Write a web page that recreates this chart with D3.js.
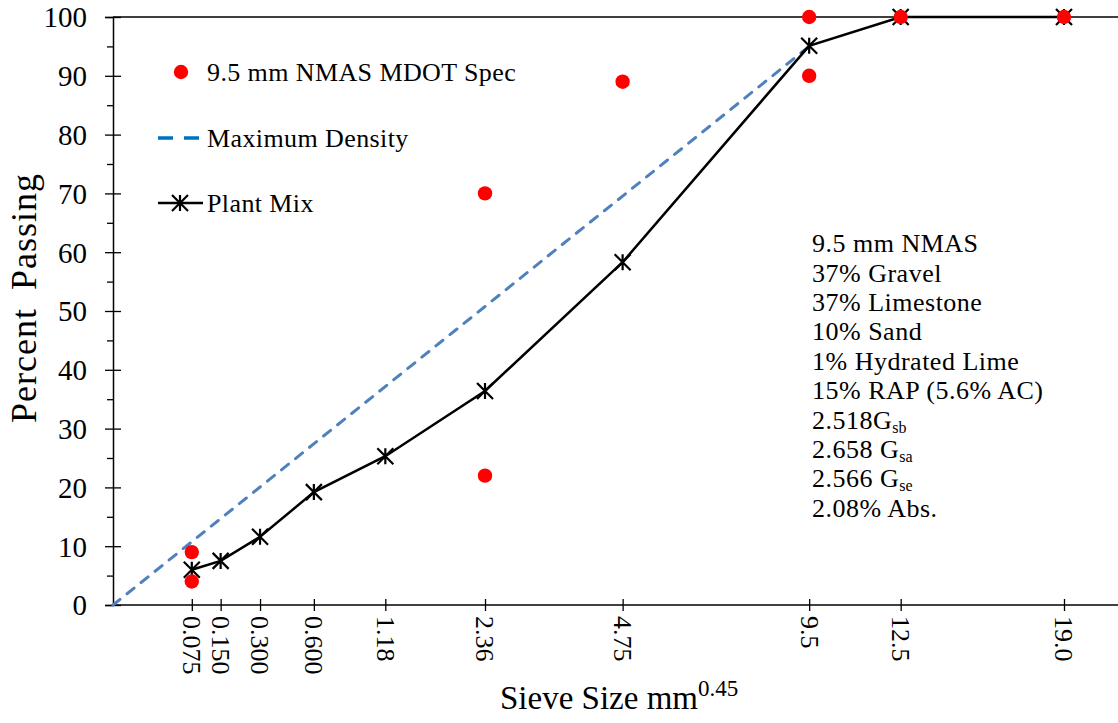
<!DOCTYPE html>
<html>
<head>
<meta charset="utf-8">
<script src="https://cdn.jsdelivr.net/npm/d3@7"></script>
<style>
  body { margin: 0; background: #fff; }
  svg { display: block; }
  text { font-family: "Liberation Serif", "Times New Roman", serif; fill: #000; }
</style>
</head>
<body>
<svg id="chart" width="1118" height="723"></svg>
<script>
// sieve sizes (mm) and their axis labels
const sieveSizes = [0.075, 0.15, 0.3, 0.6, 1.18, 2.36, 4.75, 9.5, 12.5, 19.0]
const sieveLabels = ['0.075', '0.150', '0.300', '0.600', '1.18', '2.36', '4.75', '9.5', '12.5', '19.0']

// plant mix gradation, % passing
const plantMix = [6.0, 7.5, 11.6, 19.2, 25.3, 36.4, 58.3, 95.1, 100, 100]

// MDOT spec control points
const specSieves = [0.075, 0.075, 2.36, 2.36, 4.75, 9.5, 9.5, 12.5, 19.0]
const specValues = [9, 4, 70, 22, 89, 100, 90, 100, 100]

// maximum density line
const maxDensitySieves = [0, 9.5]
const maxDensityValues = [0, 95]

const yTicks = [0, 10, 20, 30, 40, 50, 60, 70, 80, 90, 100]
const yMinorTicks = [5, 15, 25, 35, 45, 55, 65, 75, 85, 95]

const legendLabels = ['9.5 mm NMAS MDOT Spec', 'Maximum Density', 'Plant Mix']

const notes = ['9.5 mm NMAS', '37% Gravel', '37% Limestone', '10% Sand', '1% Hydrated Lime',
  '15% RAP (5.6% AC)', '2.518G_sb', '2.658 G_sa', '2.566 G_se', '2.08% Abs.']

let svg = d3.select('#chart')

let plotLeft = 113, plotRight = 1118, plotTop = 17, plotBottom = 605

// x axis is sieve size raised to the 0.45 power
let x = d3.scalePow().exponent(0.45)
  .domain([0, 19])
  .range([plotLeft, 1064])

let y = d3.scaleLinear()
  .domain([0, 100])
  .range([plotBottom, plotTop])

// top border line
svg.append('line')
  .attr('x1', plotLeft).attr('x2', plotRight)
  .attr('y1', y(100)).attr('y2', y(100))
  .style('stroke', '#000').style('stroke-width', 1.3)

// y axis
let yAxis = svg.append('g')
  .attr('transform', `translate(${ plotLeft },0)`)
  .call(d3.axisLeft(y).tickValues(yTicks).tickSizeOuter(0).tickSize(8).tickPadding(18))

yAxis.select('.domain').style('stroke', '#000').style('stroke-width', 1.5)
yAxis.selectAll('.tick line').attr('x1', 8).attr('x2', -8).style('stroke-width', 1.3)
yAxis.selectAll('.tick text')
  .style('font-size', '29px')
  .attr('dy', '0.34em')

let yMinor = svg.append('g')
  .attr('transform', `translate(${ plotLeft },0)`)
  .call(d3.axisLeft(y).tickValues(yMinorTicks).tickSize(6).tickFormat(''))
yMinor.select('.domain').remove()
yMinor.selectAll('.tick line').style('stroke-width', 1.3)

// x axis
let xAxis = svg.append('g')
  .attr('transform', `translate(0,${ plotBottom })`)
  .call(d3.axisBottom(x).tickValues(sieveSizes)
    .tickFormat((d, i) => sieveLabels[i]).tickSize(6).tickSizeOuter(0))

xAxis.select('.domain').remove()
xAxis.selectAll('.tick line').attr('y1', -6).attr('y2', 6).style('stroke-width', 1.3)
xAxis.selectAll('.tick text')
  .style('font-size', '26px')
  .style('text-anchor', 'start')
  .attr('y', 0)
  .attr('dy', '0.35em')
  .attr('transform', 'translate(0,11) rotate(90)')

svg.append('line')
  .attr('x1', plotLeft).attr('x2', plotRight)
  .attr('y1', plotBottom).attr('y2', plotBottom)
  .style('stroke', '#000').style('stroke-width', 1.5)

// axis titles
svg.append('text')
  .attr('transform', 'translate(36,298) rotate(-90)')
  .style('text-anchor', 'middle')
  .style('font-size', '36px')
  .style('letter-spacing', '1px')
  .style('word-spacing', '8px')
  .text('Percent Passing')

let xTitle = svg.append('text')
  .attr('x', 500)
  .attr('y', 709)
  .style('font-size', '33px')
xTitle.append('tspan').text('Sieve Size mm')
xTitle.append('tspan').attr('dy', -13).style('font-size', '23px').text('0.45')

// maximum density line
let maxDensity = maxDensitySieves.map((d, i) => ({ s: d, v: maxDensityValues[i] }))
svg.append('path')
  .datum(maxDensity)
  .attr('d', d3.line().x(d => x(d.s)).y(d => y(d.v)))
  .style('fill', 'none')
  .style('stroke', '#4f81bd')
  .style('stroke-width', 3)
  .style('stroke-dasharray', '9,9')
  .style('stroke-linecap', 'round')

// plant mix line
let mix = sieveSizes.map((d, i) => ({ s: d, v: plantMix[i] }))
svg.append('path')
  .datum(mix)
  .attr('d', d3.line().x(d => x(d.s)).y(d => y(d.v)))
  .style('fill', 'none')
  .style('stroke', '#000')
  .style('stroke-width', 2.5)

let star = (g, size) => {
  g.append('path')
    .attr('d', `M0,${ -size }V${ size }M${ -size },${ -size }L${ size },${ size }M${ -size },${ size }L${ size },${ -size }`)
    .style('stroke', '#000')
    .style('stroke-width', 2.2)
    .style('fill', 'none')
}

svg.append('g').selectAll('g.star').data(mix)
  .enter().append('g')
    .attr('class', 'star')
    .attr('transform', d => `translate(${ x(d.s) },${ y(d.v) })`)
    .each(function() { star(d3.select(this), 8) })

// spec points
let spec = specSieves.map((d, i) => ({ s: d, v: specValues[i] }))
svg.append('g').selectAll('circle').data(spec)
  .enter().append('circle')
    .attr('cx', d => x(d.s))
    .attr('cy', d => y(d.v))
    .attr('r', 7.2)
    .style('fill', '#ff0000')

// legend
let legend = svg.append('g').attr('class', 'legend')
legend.append('circle')
  .attr('cx', 181).attr('cy', 72).attr('r', 7.2)
  .style('fill', '#ff0000')
legend.append('line')
  .attr('x1', 158).attr('x2', 199).attr('y1', 138).attr('y2', 138)
  .style('stroke', '#0070c0').style('stroke-width', 3.5).style('stroke-dasharray', '15,11')
legend.append('line')
  .attr('x1', 158).attr('x2', 203).attr('y1', 203).attr('y2', 203)
  .style('stroke', '#000').style('stroke-width', 2.5)
let ls = legend.append('g').attr('transform', 'translate(180,203)')
star(ls, 8)

legend.selectAll('text').data(legendLabels)
  .enter().append('text')
    .attr('x', 207)
    .attr('y', (d, i) => [72, 138, 203][i])
    .attr('dy', '0.35em')
    .style('font-size', '26px')
    .style('letter-spacing', '0.4px')
    .text(d => d)

// notes box
let noteText = svg.append('g').selectAll('text').data(notes)
  .enter().append('text')
    .attr('x', 812)
    .attr('y', (d, i) => 243 + i * 29.4)
    .attr('dy', '0.35em')
    .style('font-size', '26px')
    .style('letter-spacing', '0.5px')

noteText.each(function(d) {
  let parts = d.split('_')
  let t = d3.select(this)
  t.append('tspan').text(parts[0])
  if (parts[1]) {
    t.append('tspan').attr('dy', 4).style('font-size', '16px').style('letter-spacing', '0px').text(parts[1])
  }
})
</script>
</body>
</html>
